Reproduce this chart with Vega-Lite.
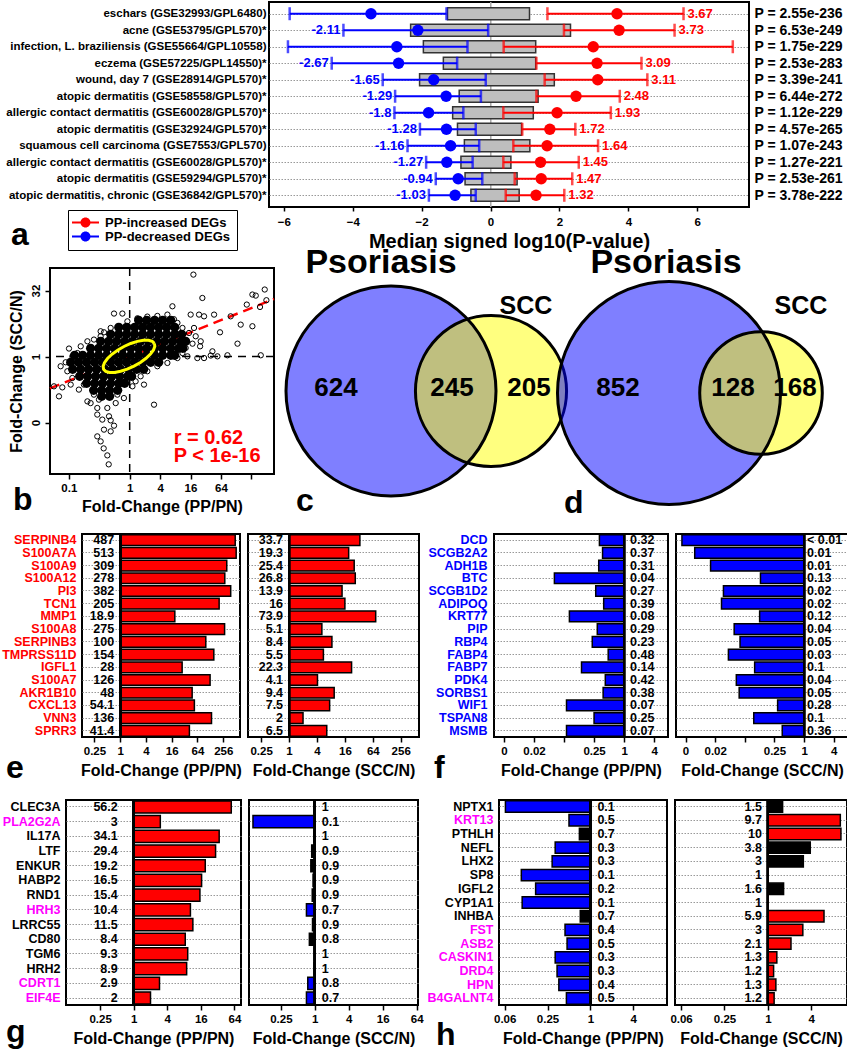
{
"$schema": "https://vega.github.io/schema/vega-lite/v6.json",
"background": "white",
"padding": 0,
"bounds": "flush",
"spacing": 266,
"resolve": {"scale": {"color": "independent", "fill": "independent", "size": "independent"}},
"config": {
  "font": "Liberation Sans",
  "view": {"stroke": null},
  "axis": {"labelFontWeight": "bold", "titleFontWeight": "bold", "labelColor": "black", "titleColor": "black", "domain": false, "grid": false, "tickColor": "black", "tickWidth": 1.5, "gridColor": "#999999", "gridDash": [1.5, 1.5], "gridWidth": 1, "labelFontSize": 11.5, "titleFontSize": 16},
  "axisX": {"tickSize": 5, "labelPadding": 3, "titlePadding": 6, "labelFlush": false},
  "title": {"fontSize": 32, "fontWeight": "bold", "anchor": "start", "orient": "bottom", "frame": "group", "baseline": "top", "color": "black"},
  "legend": {"labelFontWeight": "bold", "labelColor": "black"},
  "text": {"fontWeight": "bold"}
},
"datasets": {
  "a_rows": [
    {"name": "eschars (GSE32993/GPL6480)", "p": "P = 2.55e-236", "b_lo": -5.83, "b_med": -3.47, "b_hi": -1.28, "box_lo": -1.25, "box_hi": 1.13, "r_lo": 1.65, "r_med": 3.67, "r_hi": 5.6, "b_lab": "", "r_lab": "3.67"},
    {"name": "acne (GSE53795/GPL570)*", "p": "P = 6.53e-249", "b_lo": -4.27, "b_med": -2.11, "b_hi": -0.07, "box_lo": -2.32, "box_hi": 2.32, "r_lo": 2.13, "r_med": 3.73, "r_hi": 5.34, "b_lab": "-2.11", "r_lab": "3.73"},
    {"name": "infection, L. braziliensis (GSE55664/GPL10558)", "p": "P = 1.75e-229", "b_lo": -5.88, "b_med": -2.72, "b_hi": -0.67, "box_lo": -1.95, "box_hi": 1.31, "r_lo": 0.38, "r_med": 2.98, "r_hi": 7.03, "b_lab": "", "r_lab": ""},
    {"name": "eczema (GSE57225/GPL14550)*", "p": "P = 2.53e-283", "b_lo": -4.61, "b_med": -2.67, "b_hi": -0.97, "box_lo": -1.37, "box_hi": 1.31, "r_lo": 1.33, "r_med": 3.09, "r_hi": 4.38, "b_lab": "-2.67", "r_lab": "3.09"},
    {"name": "wound, day 7 (GSE28914/GPL570)*", "p": "P = 3.39e-241", "b_lo": -3.13, "b_med": -1.65, "b_hi": -0.14, "box_lo": -2.06, "box_hi": 1.85, "r_lo": 1.57, "r_med": 3.11, "r_hi": 4.55, "b_lab": "-1.65", "r_lab": "3.11"},
    {"name": "atopic dermatitis (GSE58558/GPL570)*", "p": "P = 6.44e-272", "b_lo": -2.77, "b_med": -1.29, "b_hi": -0.28, "box_lo": -0.91, "box_hi": 1.38, "r_lo": 1.33, "r_med": 2.48, "r_hi": 3.75, "b_lab": "-1.29", "r_lab": "2.48"},
    {"name": "allergic contact dermatitis (GSE60028/GPL570)*", "p": "P = 1.12e-229", "b_lo": -2.79, "b_med": -1.8, "b_hi": -0.79, "box_lo": -1.1, "box_hi": 1.24, "r_lo": 0.37, "r_med": 1.93, "r_hi": 3.49, "b_lab": "-1.8", "r_lab": "1.93"},
    {"name": "atopic dermatitis (GSE32924/GPL570)*", "p": "P = 4.57e-265", "b_lo": -2.05, "b_med": -1.28, "b_hi": -0.43, "box_lo": -0.96, "box_hi": 0.9, "r_lo": 0.92, "r_med": 1.72, "r_hi": 2.46, "b_lab": "-1.28", "r_lab": "1.72"},
    {"name": "squamous cell carcinoma (GSE7553/GPL570)", "p": "P = 1.07e-243", "b_lo": -2.41, "b_med": -1.16, "b_hi": -0.33, "box_lo": -0.76, "box_hi": 1.14, "r_lo": 0.66, "r_med": 1.64, "r_hi": 3.12, "b_lab": "-1.16", "r_lab": "1.64"},
    {"name": "allergic contact dermatitis (GSE60028/GPL570)*\u200b", "p": "P = 1.27e-221", "b_lo": -1.87, "b_med": -1.27, "b_hi": -0.52, "box_lo": -0.86, "box_hi": 0.59, "r_lo": 0.37, "r_med": 1.45, "r_hi": 2.56, "b_lab": "-1.27", "r_lab": "1.45"},
    {"name": "atopic dermatitis (GSE59294/GPL570)*", "p": "P = 2.53e-261", "b_lo": -1.59, "b_med": -0.94, "b_hi": -0.24, "box_lo": -0.74, "box_hi": 0.77, "r_lo": 0.7, "r_med": 1.47, "r_hi": 2.37, "b_lab": "-0.94", "r_lab": "1.47"},
    {"name": "atopic dermatitis, chronic (GSE36842/GPL570)*", "p": "P = 3.78e-222", "b_lo": -1.79, "b_med": -1.03, "b_hi": -0.43, "box_lo": -0.57, "box_hi": 0.83, "r_lo": 0.44, "r_med": 1.32, "r_hi": 2.14, "b_lab": "-1.03", "r_lab": "1.32"}
  ],
  "sc_core": [
    {"lx":0.59,"ly":2.75},{"lx":1.12,"ly":2.75},{"lx":1.64,"ly":2.75},{"lx":2.17,"ly":2.75},{"lx":2.70,"ly":2.75},
    {"lx":-0.72,"ly":2.22},{"lx":-0.20,"ly":2.22},{"lx":0.33,"ly":2.22},{"lx":0.86,"ly":2.22},{"lx":1.38,"ly":2.22},{"lx":1.91,"ly":2.22},{"lx":2.43,"ly":2.22},{"lx":2.96,"ly":2.22},
    {"lx":-1.25,"ly":1.69},{"lx":-0.72,"ly":1.69},{"lx":-0.20,"ly":1.69},{"lx":0.33,"ly":1.69},{"lx":0.86,"ly":1.69},{"lx":1.38,"ly":1.69},{"lx":1.91,"ly":1.69},{"lx":2.43,"ly":1.69},{"lx":2.96,"ly":1.69},{"lx":3.42,"ly":1.69},
    {"lx":-1.91,"ly":1.16},{"lx":-1.38,"ly":1.16},{"lx":-0.86,"ly":1.16},{"lx":-0.33,"ly":1.16},{"lx":0.20,"ly":1.16},{"lx":0.72,"ly":1.16},{"lx":1.25,"ly":1.16},{"lx":1.78,"ly":1.16},{"lx":2.30,"ly":1.16},{"lx":2.83,"ly":1.16},{"lx":3.36,"ly":1.16},{"lx":3.68,"ly":1.16},
    {"lx":-2.57,"ly":0.63},{"lx":-2.04,"ly":0.63},{"lx":-1.51,"ly":0.63},{"lx":-0.99,"ly":0.63},{"lx":-0.46,"ly":0.63},{"lx":0.07,"ly":0.63},{"lx":0.59,"ly":0.63},{"lx":1.12,"ly":0.63},{"lx":1.64,"ly":0.63},{"lx":2.17,"ly":0.63},{"lx":2.70,"ly":0.63},{"lx":3.22,"ly":0.63},{"lx":3.49,"ly":0.63},
    {"lx":-3.62,"ly":0.10},{"lx":-3.09,"ly":0.10},{"lx":-2.57,"ly":0.10},{"lx":-2.04,"ly":0.10},{"lx":-1.51,"ly":0.10},{"lx":-0.99,"ly":0.10},{"lx":-0.46,"ly":0.10},{"lx":0.07,"ly":0.10},{"lx":0.59,"ly":0.10},{"lx":1.12,"ly":0.10},{"lx":1.64,"ly":0.10},{"lx":2.17,"ly":0.10},{"lx":2.70,"ly":0.10},{"lx":2.96,"ly":0.10},
    {"lx":-3.88,"ly":-0.43},{"lx":-3.36,"ly":-0.43},{"lx":-2.83,"ly":-0.43},{"lx":-2.30,"ly":-0.43},{"lx":-1.78,"ly":-0.43},{"lx":-1.25,"ly":-0.43},{"lx":-0.72,"ly":-0.43},{"lx":-0.20,"ly":-0.43},{"lx":0.33,"ly":-0.43},{"lx":0.86,"ly":-0.43},{"lx":1.38,"ly":-0.43},{"lx":1.91,"ly":-0.43},
    {"lx":-3.75,"ly":-0.96},{"lx":-3.22,"ly":-0.96},{"lx":-2.70,"ly":-0.96},{"lx":-2.17,"ly":-0.96},{"lx":-1.64,"ly":-0.96},{"lx":-1.12,"ly":-0.96},{"lx":-0.59,"ly":-0.96},{"lx":-0.07,"ly":-0.96},{"lx":0.46,"ly":-0.96},{"lx":0.92,"ly":-0.96},
    {"lx":-3.29,"ly":-1.49},{"lx":-2.76,"ly":-1.49},{"lx":-2.24,"ly":-1.49},{"lx":-1.71,"ly":-1.49},{"lx":-1.18,"ly":-1.49},{"lx":-0.66,"ly":-1.49},{"lx":-0.13,"ly":-1.49},{"lx":0.13,"ly":-1.49},
    {"lx":-2.83,"ly":-2.02},{"lx":-2.30,"ly":-2.02},{"lx":-1.78,"ly":-2.02},{"lx":-1.25,"ly":-2.02},{"lx":-0.72,"ly":-2.02},{"lx":-0.33,"ly":-2.02},
    {"lx":-2.37,"ly":-2.55},{"lx":-1.84,"ly":-2.55},{"lx":-1.32,"ly":-2.55},{"lx":-0.79,"ly":-2.55},
    {"lx":-1.84,"ly":-3.01},{"lx":-1.32,"ly":-3.01}
  ],
  "sc_pts": [
    {"lx":4.19,"ly":6.21},{"lx":4.78,"ly":4.44},{"lx":2.81,"ly":3.81},{"lx":-1.03,"ly":3.26},{"lx":-0.48,"ly":3.26},{"lx":8.07,"ly":4.70},{"lx":8.29,"ly":4.62},{"lx":8.88,"ly":5.08},{"lx":8.99,"ly":4.27},{"lx":8.57,"ly":3.76},{"lx":7.70,"ly":3.94},{"lx":6.64,"ly":3.05},{"lx":7.30,"ly":2.42},{"lx":8.07,"ly":2.30},{"lx":7.09,"ly":0.98},{"lx":5.94,"ly":1.84},{"lx":5.55,"ly":3.18},{"lx":4.89,"ly":3.05},{"lx":4.56,"ly":3.18},{"lx":4.01,"ly":3.18},{"lx":6.43,"ly":0.10},{"lx":8.62,"ly":0.10},{"lx":5.77,"ly":0.02},{"lx":5.33,"ly":0.08},{"lx":4.89,"ly":-0.11},{"lx":4.45,"ly":-0.11},{"lx":5.44,"ly":0.40},{"lx":4.67,"ly":1.16},{"lx":4.63,"ly":0.78},{"lx":4.34,"ly":1.54},{"lx":4.13,"ly":0.98},{"lx":1.60,"ly":-3.64},{"lx":0.94,"ly":-2.12},{"lx":-4.65,"ly":-3.01},{"lx":-4.43,"ly":-2.33},{"lx":-3.88,"ly":-2.12},{"lx":-3.34,"ly":-2.50},{"lx":-2.78,"ly":-3.39},{"lx":-2.02,"ly":-3.26},{"lx":-4.98,"ly":-2.25},{"lx":-4.21,"ly":-0.43},{"lx":-3.77,"ly":0.02},{"lx":-3.99,"ly":0.61},{"lx":-2.57,"ly":0.65},{"lx":-3.44,"ly":0.27},{"lx":-1.91,"ly":1.54},{"lx":-1.69,"ly":1.84},
    {"lx":-2.13,"ly":-4.39},{"lx":-1.80,"ly":-4.77},{"lx":-1.36,"ly":-4.52},{"lx":-1.25,"ly":-4.83},{"lx":-1.69,"ly":-5.53},{"lx":-1.25,"ly":-5.66},{"lx":-1.03,"ly":-5.23},{"lx":-1.91,"ly":-6.42},{"lx":-2.13,"ly":-6.04},{"lx":-1.47,"ly":-7.48},{"lx":-0.81,"ly":-2.88},{"lx":-0.38,"ly":-3.14},{"lx":-0.92,"ly":-3.52},{"lx":-1.47,"ly":-3.89},{"lx":-2.13,"ly":-3.89},{"lx":-2.57,"ly":-3.52},{"lx":-1.71,"ly":-6.95},{"lx":-1.38,"ly":-8.16},
    {"lx":3.14,"ly":2.55},{"lx":3.47,"ly":2.17},{"lx":3.90,"ly":1.79},{"lx":4.23,"ly":2.17},{"lx":3.68,"ly":0.65},{"lx":3.47,"ly":0.27},{"lx":3.80,"ly":0.02},{"lx":3.14,"ly":-0.11},{"lx":2.48,"ly":-0.48},{"lx":1.82,"ly":-0.73},{"lx":1.16,"ly":-1.11},{"lx":0.72,"ly":-1.49},{"lx":0.39,"ly":-1.87},{"lx":0.18,"ly":-2.25},
    {"lx":-4.54,"ly":-0.73},{"lx":-4.10,"ly":-1.11},{"lx":-3.77,"ly":-1.62},{"lx":-3.01,"ly":-2.12},{"lx":-2.35,"ly":-2.88},
    {"lx":-3.22,"ly":0.78},{"lx":-2.78,"ly":1.16},{"lx":-2.35,"ly":1.29},{"lx":-1.91,"ly":1.92},{"lx":-1.25,"ly":2.17},
    {"lx":-0.15,"ly":2.67},{"lx":0.51,"ly":2.90},{"lx":1.16,"ly":3.03},{"lx":1.82,"ly":3.08},{"lx":2.48,"ly":3.18},{"lx":2.91,"ly":2.83}
  ],
  "sc_ell": [
    {"t":0,"lx":1.624,"ly":1.003},{"t":15,"lx":1.653,"ly":0.777},{"t":30,"lx":1.565,"ly":0.5},{"t":45,"lx":1.367,"ly":0.191},{"t":60,"lx":1.074,"ly":-0.13},{"t":75,"lx":0.705,"ly":-0.441},{"t":90,"lx":0.282,"ly":-0.72},{"t":105,"lx":-0.161,"ly":-0.948},{"t":120,"lx":-0.597,"ly":-1.111},{"t":135,"lx":-0.995,"ly":-1.195},{"t":150,"lx":-1.328,"ly":-1.197},{"t":165,"lx":-1.575,"ly":-1.117},{"t":180,"lx":-1.716,"ly":-0.958},{"t":195,"lx":-1.745,"ly":-0.732},{"t":210,"lx":-1.657,"ly":-0.455},{"t":225,"lx":-1.459,"ly":-0.145},{"t":240,"lx":-1.166,"ly":0.176},{"t":255,"lx":-0.797,"ly":0.486},{"t":270,"lx":-0.374,"ly":0.765},{"t":285,"lx":0.069,"ly":0.994},{"t":300,"lx":0.505,"ly":1.156},{"t":315,"lx":0.903,"ly":1.241},{"t":330,"lx":1.236,"ly":1.242},{"t":345,"lx":1.483,"ly":1.162},{"t":360,"lx":1.624,"ly":1.003}
  ],
  "sc_txt": [{"lx": 2.89, "ly": -6.17, "txt": "r = 0.62"}, {"lx": 2.89, "ly": -7.55, "txt": "P < 1e-16"}],
  "vc_sets": [{"set": "Psoriasis", "n": 869, "cx": 10.9, "cy": 12.3}, {"set": "SCC", "n": 450, "cx": 20.9, "cy": 12.3}],
  "vc_txt": [{"t": "Psoriasis", "cx": 9.9, "cy": -0.5, "k": "big"}, {"t": "SCC", "cx": 24.4, "cy": 3.8, "k": "mid"}, {"t": "624", "cx": 5.4, "cy": 12.0, "k": "num"}, {"t": "245", "cx": 17.0, "cy": 12.0, "k": "num"}, {"t": "205", "cx": 24.7, "cy": 12.0, "k": "num"}, {"t": "c", "cx": 1.4, "cy": 24.3, "k": "letter"}],
  "vd_sets": [{"set": "Psoriasis", "n": 980, "cx": 10.0, "cy": 12.5}, {"set": "SCC", "n": 296, "cx": 19.2, "cy": 12.5}],
  "vd_txt": [{"t": "Psoriasis", "cx": 9.7, "cy": -0.5, "k": "big"}, {"t": "SCC", "cx": 23.2, "cy": 3.8, "k": "mid"}, {"t": "852", "cx": 4.9, "cy": 12.0, "k": "num"}, {"t": "128", "cx": 16.4, "cy": 12.0, "k": "num"}, {"t": "168", "cx": 22.6, "cy": 12.0, "k": "num"}, {"t": "d", "cx": -0.5, "cy": 24.5, "k": "letter"}],
  "e_pp": [
    {"gene":"SERPINB4","fc":487,"lab":"487","dir":"up"},{"gene":"S100A7A","fc":513,"lab":"513","dir":"up"},{"gene":"S100A9","fc":309,"lab":"309","dir":"up"},{"gene":"S100A12","fc":278,"lab":"278","dir":"up"},{"gene":"PI3","fc":382,"lab":"382","dir":"up"},{"gene":"TCN1","fc":205,"lab":"205","dir":"up"},{"gene":"MMP1","fc":18.9,"lab":"18.9","dir":"up"},{"gene":"S100A8","fc":275,"lab":"275","dir":"up"},{"gene":"SERPINB3","fc":100,"lab":"100","dir":"up"},{"gene":"TMPRSS11D","fc":154,"lab":"154","dir":"up"},{"gene":"IGFL1","fc":28,"lab":"28","dir":"up"},{"gene":"S100A7","fc":126,"lab":"126","dir":"up"},{"gene":"AKR1B10","fc":48,"lab":"48","dir":"up"},{"gene":"CXCL13","fc":54.1,"lab":"54.1","dir":"up"},{"gene":"VNN3","fc":136,"lab":"136","dir":"up"},{"gene":"SPRR3","fc":41.4,"lab":"41.4","dir":"up"}
  ],
  "e_scc": [
    {"gene":"SERPINB4","fc":33.7,"lab":"33.7","dir":"up"},{"gene":"S100A7A","fc":19.3,"lab":"19.3","dir":"up"},{"gene":"S100A9","fc":25.4,"lab":"25.4","dir":"up"},{"gene":"S100A12","fc":26.8,"lab":"26.8","dir":"up"},{"gene":"PI3","fc":13.9,"lab":"13.9","dir":"up"},{"gene":"TCN1","fc":16,"lab":"16","dir":"up"},{"gene":"MMP1","fc":73.9,"lab":"73.9","dir":"up"},{"gene":"S100A8","fc":5.1,"lab":"5.1","dir":"up"},{"gene":"SERPINB3","fc":8.4,"lab":"8.4","dir":"up"},{"gene":"TMPRSS11D","fc":5.5,"lab":"5.5","dir":"up"},{"gene":"IGFL1","fc":22.3,"lab":"22.3","dir":"up"},{"gene":"S100A7","fc":4.1,"lab":"4.1","dir":"up"},{"gene":"AKR1B10","fc":9.4,"lab":"9.4","dir":"up"},{"gene":"CXCL13","fc":7.5,"lab":"7.5","dir":"up"},{"gene":"VNN3","fc":2,"lab":"2","dir":"up"},{"gene":"SPRR3","fc":6.5,"lab":"6.5","dir":"up"}
  ],
  "f_pp": [
    {"gene":"DCD","fc":0.32,"lab":"0.32","dir":"down"},{"gene":"SCGB2A2","fc":0.37,"lab":"0.37","dir":"down"},{"gene":"ADH1B","fc":0.31,"lab":"0.31","dir":"down"},{"gene":"BTC","fc":0.04,"lab":"0.04","dir":"down"},{"gene":"SCGB1D2","fc":0.27,"lab":"0.27","dir":"down"},{"gene":"ADIPOQ","fc":0.39,"lab":"0.39","dir":"down"},{"gene":"KRT77","fc":0.08,"lab":"0.08","dir":"down"},{"gene":"PIP","fc":0.29,"lab":"0.29","dir":"down"},{"gene":"RBP4","fc":0.23,"lab":"0.23","dir":"down"},{"gene":"FABP4","fc":0.48,"lab":"0.48","dir":"down"},{"gene":"FABP7","fc":0.14,"lab":"0.14","dir":"down"},{"gene":"PDK4","fc":0.42,"lab":"0.42","dir":"down"},{"gene":"SORBS1","fc":0.38,"lab":"0.38","dir":"down"},{"gene":"WIF1","fc":0.07,"lab":"0.07","dir":"down"},{"gene":"TSPAN8","fc":0.25,"lab":"0.25","dir":"down"},{"gene":"MSMB","fc":0.07,"lab":"0.07","dir":"down"}
  ],
  "f_scc": [
    {"gene":"DCD","fc":0.0033,"lab":"< 0.01","dir":"down"},{"gene":"SCGB2A2","fc":0.006,"lab":"0.01","dir":"down"},{"gene":"ADH1B","fc":0.0126,"lab":"0.01","dir":"down"},{"gene":"BTC","fc":0.13,"lab":"0.13","dir":"down"},{"gene":"SCGB1D2","fc":0.023,"lab":"0.02","dir":"down"},{"gene":"ADIPOQ","fc":0.021,"lab":"0.02","dir":"down"},{"gene":"KRT77","fc":0.125,"lab":"0.12","dir":"down"},{"gene":"PIP","fc":0.038,"lab":"0.04","dir":"down"},{"gene":"RBP4","fc":0.05,"lab":"0.05","dir":"down"},{"gene":"FABP4","fc":0.029,"lab":"0.03","dir":"down"},{"gene":"FABP7","fc":0.099,"lab":"0.1","dir":"down"},{"gene":"PDK4","fc":0.042,"lab":"0.04","dir":"down"},{"gene":"SORBS1","fc":0.048,"lab":"0.05","dir":"down"},{"gene":"WIF1","fc":0.29,"lab":"0.28","dir":"down"},{"gene":"TSPAN8","fc":0.095,"lab":"0.1","dir":"down"},{"gene":"MSMB","fc":0.36,"lab":"0.36","dir":"down"}
  ],
  "g_pp": [
    {"gene":"CLEC3A","fc":56.2,"lab":"56.2","dir":"up"},{"gene":"PLA2G2A","fc":3,"lab":"3","dir":"up"},{"gene":"IL17A","fc":34.1,"lab":"34.1","dir":"up"},{"gene":"LTF","fc":29.4,"lab":"29.4","dir":"up"},{"gene":"ENKUR","fc":19.2,"lab":"19.2","dir":"up"},{"gene":"HABP2","fc":16.5,"lab":"16.5","dir":"up"},{"gene":"RND1","fc":15.4,"lab":"15.4","dir":"up"},{"gene":"HRH3","fc":10.4,"lab":"10.4","dir":"up"},{"gene":"LRRC55","fc":11.5,"lab":"11.5","dir":"up"},{"gene":"CD80","fc":8.4,"lab":"8.4","dir":"up"},{"gene":"TGM6","fc":9.3,"lab":"9.3","dir":"up"},{"gene":"HRH2","fc":8.9,"lab":"8.9","dir":"up"},{"gene":"CDRT1","fc":2.9,"lab":"2.9","dir":"up"},{"gene":"EIF4E","fc":2,"lab":"2","dir":"up"}
  ],
  "g_scc": [
    {"gene":"CLEC3A","fc":0.96,"lab":"1","dir":"ns"},{"gene":"PLA2G2A","fc":0.08,"lab":"0.1","dir":"down"},{"gene":"IL17A","fc":0.96,"lab":"1","dir":"ns"},{"gene":"LTF","fc":0.88,"lab":"0.9","dir":"ns"},{"gene":"ENKUR","fc":0.85,"lab":"0.9","dir":"ns"},{"gene":"HABP2","fc":0.93,"lab":"0.9","dir":"ns"},{"gene":"RND1","fc":0.9,"lab":"0.9","dir":"ns"},{"gene":"HRH3","fc":0.71,"lab":"0.7","dir":"down"},{"gene":"LRRC55","fc":0.91,"lab":"0.9","dir":"ns"},{"gene":"CD80","fc":0.8,"lab":"0.8","dir":"ns"},{"gene":"TGM6","fc":0.98,"lab":"1","dir":"ns"},{"gene":"HRH2","fc":0.97,"lab":"1","dir":"ns"},{"gene":"CDRT1","fc":0.75,"lab":"0.8","dir":"down"},{"gene":"EIF4E","fc":0.71,"lab":"0.7","dir":"down"}
  ],
  "h_pp": [
    {"gene":"NPTX1","fc":0.064,"lab":"0.1","dir":"down"},{"gene":"KRT13","fc":0.5,"lab":"0.5","dir":"down"},{"gene":"PTHLH","fc":0.7,"lab":"0.7","dir":"ns"},{"gene":"NEFL","fc":0.32,"lab":"0.3","dir":"down"},{"gene":"LHX2","fc":0.29,"lab":"0.3","dir":"down"},{"gene":"SP8","fc":0.107,"lab":"0.1","dir":"down"},{"gene":"IGFL2","fc":0.17,"lab":"0.2","dir":"down"},{"gene":"CYP1A1","fc":0.11,"lab":"0.1","dir":"down"},{"gene":"INHBA","fc":0.72,"lab":"0.7","dir":"ns"},{"gene":"FST","fc":0.44,"lab":"0.4","dir":"down"},{"gene":"ASB2","fc":0.47,"lab":"0.5","dir":"down"},{"gene":"CASKIN1","fc":0.32,"lab":"0.3","dir":"down"},{"gene":"DRD4","fc":0.34,"lab":"0.3","dir":"down"},{"gene":"HPN","fc":0.36,"lab":"0.4","dir":"down"},{"gene":"B4GALNT4","fc":0.46,"lab":"0.5","dir":"down"}
  ],
  "h_scc": [
    {"gene":"NPTX1","fc":1.6,"lab":"1.5","dir":"ns"},{"gene":"KRT13","fc":10.1,"lab":"9.7","dir":"up"},{"gene":"PTHLH","fc":10.3,"lab":"10","dir":"up"},{"gene":"NEFL","fc":3.87,"lab":"3.8","dir":"ns"},{"gene":"LHX2","fc":3.1,"lab":"3","dir":"ns"},{"gene":"SP8","fc":1,"lab":"1","dir":"ns"},{"gene":"IGFL2","fc":1.65,"lab":"1.6","dir":"ns"},{"gene":"CYP1A1","fc":1,"lab":"1","dir":"ns"},{"gene":"INHBA","fc":6.0,"lab":"5.9","dir":"up"},{"gene":"FST","fc":3.05,"lab":"3","dir":"up"},{"gene":"ASB2","fc":2.09,"lab":"2.1","dir":"up"},{"gene":"CASKIN1","fc":1.33,"lab":"1.3","dir":"up"},{"gene":"DRD4","fc":1.2,"lab":"1.2","dir":"up"},{"gene":"HPN","fc":1.29,"lab":"1.3","dir":"up"},{"gene":"B4GALNT4","fc":1.22,"lab":"1.2","dir":"up"}
  ]
},
"vconcat": [
 {"hconcat": [
  {"width": 260, "height": 205, "data": {"values": [{}]}, "mark": {"type": "point", "opacity": 0}, "title": {"text": "a", "dx": 10, "offset": 13, "frame": "group", "baseline": "top"}},
  {
    "width": 480, "height": 205,
    "view": {"stroke": "black", "strokeWidth": 2},
    "data": {"name": "a_rows"},
    "resolve": {"scale": {"y": "independent"}, "axis": {"y": "independent"}},
    "layer": [
      {"mark": {"type": "rule", "color": "#aaaaaa", "strokeWidth": 1}, "encoding": {"x": {"datum": 0, "type": "quantitative", "scale": {"domain": [-6.43, 7.5], "nice": false, "zero": false}, "title": "Median signed log10(P-value)"}}},
      {"encoding": {"y": {"field": "name", "type": "nominal", "sort": null, "scale": {"type": "point", "padding": 0.71}, "axis": {"title": null, "ticks": false, "tickSize": 0, "labelPadding": 3, "labelFontSize": 11.5, "labelLimit": 400, "grid": true}}},
       "layer": [
        {"mark": {"type": "bar", "fill": "#BEBEBE", "stroke": "#333333", "strokeWidth": 1.5, "size": 12},
         "encoding": {
           "x": {"field": "box_lo", "type": "quantitative", "scale": {"domain": [-6.43, 7.5], "nice": false, "zero": false}, "title": "Median signed log10(P-value)", "axis": {"values": [-6, -4, -2, 0, 2, 4, 6], "titleFontSize": 20, "tickSize": 4, "labelPadding": 5, "titlePadding": 4}},
           "x2": {"field": "box_hi"}}},
        {"mark": {"type": "rule", "color": "#0000FF", "strokeWidth": 2},
         "encoding": {"x": {"field": "b_lo", "type": "quantitative", "scale": {"domain": [-6.43, 7.5], "nice": false, "zero": false}, "title": "Median signed log10(P-value)"}, "x2": {"field": "b_hi"}}},
        {"mark": {"type": "tick", "color": "#0000FF", "size": 13, "thickness": 2.5},
         "encoding": {"x": {"field": "b_lo", "type": "quantitative", "scale": {"domain": [-6.43, 7.5], "nice": false, "zero": false}, "title": "Median signed log10(P-value)"}}},
        {"mark": {"type": "tick", "color": "#0000FF", "size": 13, "thickness": 2.5},
         "encoding": {"x": {"field": "b_hi", "type": "quantitative", "scale": {"domain": [-6.43, 7.5], "nice": false, "zero": false}, "title": "Median signed log10(P-value)"}}},
        {"mark": {"type": "rule", "color": "#FF0000", "strokeWidth": 2},
         "encoding": {"x": {"field": "r_lo", "type": "quantitative", "scale": {"domain": [-6.43, 7.5], "nice": false, "zero": false}, "title": "Median signed log10(P-value)"}, "x2": {"field": "r_hi"}}},
        {"mark": {"type": "tick", "color": "#FF0000", "size": 13, "thickness": 2.5},
         "encoding": {"x": {"field": "r_lo", "type": "quantitative", "scale": {"domain": [-6.43, 7.5], "nice": false, "zero": false}, "title": "Median signed log10(P-value)"}}},
        {"mark": {"type": "tick", "color": "#FF0000", "size": 13, "thickness": 2.5},
         "encoding": {"x": {"field": "r_hi", "type": "quantitative", "scale": {"domain": [-6.43, 7.5], "nice": false, "zero": false}, "title": "Median signed log10(P-value)"}}},
        {"mark": {"type": "point", "filled": true, "size": 130, "opacity": 1},
         "encoding": {"x": {"field": "b_med", "type": "quantitative", "scale": {"domain": [-6.43, 7.5], "nice": false, "zero": false}, "title": "Median signed log10(P-value)"},
           "color": {"datum": "PP-decreased DEGs", "type": "nominal"}}},
        {"mark": {"type": "point", "filled": true, "size": 130, "opacity": 1},
         "encoding": {"x": {"field": "r_med", "type": "quantitative", "scale": {"domain": [-6.43, 7.5], "nice": false, "zero": false}, "title": "Median signed log10(P-value)"},
           "color": {"datum": "PP-increased DEGs", "type": "nominal", "scale": {"domain": ["PP-increased DEGs", "PP-decreased DEGs"], "range": ["#FF0000", "#0000FF"]},
             "legend": {"title": null, "orient": "none", "legendX": 67, "legendY": 208, "strokeColor": "black", "fillColor": "white", "padding": 6, "symbolType": "M-2.7,-0.2H2.7V0.2H-2.7Z M1,0A1,1,0,1,1,-1,0A1,1,0,1,1,1,0Z", "symbolSize": 100, "symbolOffset": 5, "symbolStrokeWidth": 0, "labelOffset": 13, "labelFontSize": 13, "rowPadding": 0}}}},
        {"mark": {"type": "text", "align": "right", "dx": -3, "fontSize": 13, "color": "#0000FF"},
         "encoding": {"x": {"field": "b_lo", "type": "quantitative", "scale": {"domain": [-6.43, 7.5], "nice": false, "zero": false}, "title": "Median signed log10(P-value)"}, "text": {"field": "b_lab"}}},
        {"mark": {"type": "text", "align": "left", "dx": 4, "fontSize": 13, "color": "#FF0000"},
         "encoding": {"x": {"field": "r_hi", "type": "quantitative", "scale": {"domain": [-6.43, 7.5], "nice": false, "zero": false}, "title": "Median signed log10(P-value)"}, "text": {"field": "r_lab"}}}
      ]},
      {"mark": {"type": "point", "opacity": 0},
       "encoding": {"y": {"field": "p", "type": "nominal", "sort": null, "scale": {"type": "point", "padding": 0.71}, "axis": {"orient": "right", "title": null, "ticks": false, "tickSize": 0, "labelPadding": 5, "labelFontSize": 14, "grid": false, "labelLimit": 200}}}}
    ]
  }
 ], "bounds": "flush", "spacing": 8},

 {"hconcat": [
  {"width": 41, "height": 206, "data": {"values": [{}]}, "mark": {"type": "point", "opacity": 0}, "title": {"text": "b", "dx": 12, "offset": 11, "frame": "group", "baseline": "top"}},
  {
    "width": 224, "height": 206,
    "view": {"stroke": "black", "strokeWidth": 2},
    "layer": [
      {"data": {"values": [{"v": 0}]}, "mark": {"type": "rule", "color": "black", "strokeWidth": 1.5, "strokeDash": [8, 6]},
       "encoding": {"x": {"field": "v", "type": "quantitative", "scale": {"domain": [-5.24, 9.49], "nice": false, "zero": false},
         "axis": {"values": [-4, -2, 0, 2, 4, 6, 8], "labelExpr": "datum.value == -4 ? '0.1' : datum.value == 0 ? '1' : datum.value == 2 ? '4' : datum.value == 4 ? '16' : datum.value == 6 ? '64' : ''", "labelOverlap": false, "title": "Fold-Change (PP/PN)", "tickSize": 5, "labelPadding": 3, "titlePadding": 5}}}},
      {"data": {"values": [{"v": 0}]}, "mark": {"type": "rule", "color": "black", "strokeWidth": 1.5, "strokeDash": [8, 6]},
       "encoding": {"y": {"field": "v", "type": "quantitative", "scale": {"domain": [-8.89, 6.71], "nice": false, "zero": false},
         "axis": {"values": [-5, 0, 5], "labelExpr": "datum.value < -1 ? '0' : datum.value > 1 ? '32' : '1'", "labelAngle": -90, "labelAlign": "center", "labelBaseline": "bottom", "title": "Fold-Change (SCC/N)", "tickSize": 5, "labelPadding": 4, "titlePadding": 6}}}},
      {"data": {"values": [{"x1": -5.24, "y1": -2.4, "x2": 9.49, "y2": 4.36}]}, "mark": {"type": "rule", "color": "#FF0000", "strokeWidth": 2.5, "strokeDash": [10, 6]},
       "encoding": {"x": {"field": "x1", "type": "quantitative", "scale": {"domain": [-5.24, 9.49], "nice": false, "zero": false},
         "axis": {"values": [-4, -2, 0, 2, 4, 6, 8], "labelExpr": "datum.value == -4 ? '0.1' : datum.value == 0 ? '1' : datum.value == 2 ? '4' : datum.value == 4 ? '16' : datum.value == 6 ? '64' : ''", "labelOverlap": false, "title": "Fold-Change (PP/PN)", "tickSize": 5, "labelPadding": 3, "titlePadding": 5}},
         "y": {"field": "y1", "type": "quantitative", "scale": {"domain": [-8.89, 6.71], "nice": false, "zero": false}, "title": "Fold-Change (SCC/N)"}, "x2": {"field": "x2"}, "y2": {"field": "y2"}}},
      {"data": {"name": "sc_core"}, "mark": {"type": "point", "filled": true, "color": "black", "size": 85, "opacity": 1},
       "encoding": {"x": {"field": "lx", "type": "quantitative", "scale": {"domain": [-5.24, 9.49], "nice": false, "zero": false},
         "axis": {"values": [-4, -2, 0, 2, 4, 6, 8], "labelExpr": "datum.value == -4 ? '0.1' : datum.value == 0 ? '1' : datum.value == 2 ? '4' : datum.value == 4 ? '16' : datum.value == 6 ? '64' : ''", "labelOverlap": false, "title": "Fold-Change (PP/PN)", "tickSize": 5, "labelPadding": 3, "titlePadding": 5}},
         "y": {"field": "ly", "type": "quantitative", "scale": {"domain": [-8.89, 6.71], "nice": false, "zero": false}, "title": "Fold-Change (SCC/N)"}}},
      {"data": {"name": "sc_pts"}, "mark": {"type": "point", "filled": false, "color": "black", "size": 28, "strokeWidth": 1, "opacity": 1},
       "encoding": {"x": {"field": "lx", "type": "quantitative", "scale": {"domain": [-5.24, 9.49], "nice": false, "zero": false},
         "axis": {"values": [-4, -2, 0, 2, 4, 6, 8], "labelExpr": "datum.value == -4 ? '0.1' : datum.value == 0 ? '1' : datum.value == 2 ? '4' : datum.value == 4 ? '16' : datum.value == 6 ? '64' : ''", "labelOverlap": false, "title": "Fold-Change (PP/PN)", "tickSize": 5, "labelPadding": 3, "titlePadding": 5}},
         "y": {"field": "ly", "type": "quantitative", "scale": {"domain": [-8.89, 6.71], "nice": false, "zero": false}, "title": "Fold-Change (SCC/N)"}}},
      {"data": {"name": "sc_ell"}, "mark": {"type": "line", "color": "#FFFF00", "strokeWidth": 3},
       "encoding": {"x": {"field": "lx", "type": "quantitative", "scale": {"domain": [-5.24, 9.49], "nice": false, "zero": false},
         "axis": {"values": [-4, -2, 0, 2, 4, 6, 8], "labelExpr": "datum.value == -4 ? '0.1' : datum.value == 0 ? '1' : datum.value == 2 ? '4' : datum.value == 4 ? '16' : datum.value == 6 ? '64' : ''", "labelOverlap": false, "title": "Fold-Change (PP/PN)", "tickSize": 5, "labelPadding": 3, "titlePadding": 5}},
         "y": {"field": "ly", "type": "quantitative", "scale": {"domain": [-8.89, 6.71], "nice": false, "zero": false}, "title": "Fold-Change (SCC/N)"}, "order": {"field": "t", "type": "quantitative"}}},
      {"data": {"name": "sc_txt"}, "mark": {"type": "text", "color": "#FF0000", "fontSize": 20, "align": "left"},
       "encoding": {"x": {"field": "lx", "type": "quantitative", "scale": {"domain": [-5.24, 9.49], "nice": false, "zero": false},
         "axis": {"values": [-4, -2, 0, 2, 4, 6, 8], "labelExpr": "datum.value == -4 ? '0.1' : datum.value == 0 ? '1' : datum.value == 2 ? '4' : datum.value == 4 ? '16' : datum.value == 6 ? '64' : ''", "labelOverlap": false, "title": "Fold-Change (PP/PN)", "tickSize": 5, "labelPadding": 3, "titlePadding": 5}},
         "y": {"field": "ly", "type": "quantitative", "scale": {"domain": [-8.89, 6.71], "nice": false, "zero": false}, "title": "Fold-Change (SCC/N)"}, "text": {"field": "txt"}}}
    ]
  },
  {
    "width": 279, "height": 206,
    "layer": [
      {"data": {"name": "vc_sets"}, "mark": {"type": "point", "shape": "circle", "filled": true, "fillOpacity": 0.5, "strokeWidth": 0, "opacity": 1},
       "encoding": {"x": {"field": "cx", "type": "quantitative", "scale": {"domain": [0, 27.9], "nice": false, "zero": false}, "axis": null}, "y": {"field": "cy", "type": "quantitative", "scale": {"domain": [0, 20.6], "nice": false, "zero": false, "reverse": true}, "axis": null},
         "size": {"field": "n", "type": "quantitative", "scale": {"domain": [0, 1000], "range": [0, 50750]}, "legend": null},
         "color": {"field": "set", "type": "nominal", "scale": {"domain": ["Psoriasis", "SCC"], "range": ["#0000FF", "#FFFF00"]}, "legend": null}}},
      {"data": {"name": "vc_sets"}, "mark": {"type": "point", "shape": "circle", "filled": false, "color": "black", "strokeWidth": 3, "opacity": 1},
       "encoding": {"x": {"field": "cx", "type": "quantitative", "scale": {"domain": [0, 27.9], "nice": false, "zero": false}}, "y": {"field": "cy", "type": "quantitative", "scale": {"domain": [0, 20.6], "nice": false, "zero": false, "reverse": true}},
         "size": {"field": "n", "type": "quantitative", "scale": {"domain": [0, 1000], "range": [0, 50750]}, "legend": null}}},
      {"data": {"name": "vc_txt"}, "transform": [{"filter": "datum.k == 'big'"}], "mark": {"type": "text", "fontSize": 34, "color": "black"},
       "encoding": {"x": {"field": "cx", "type": "quantitative", "scale": {"domain": [0, 27.9], "nice": false, "zero": false}}, "y": {"field": "cy", "type": "quantitative", "scale": {"domain": [0, 20.6], "nice": false, "zero": false, "reverse": true}}, "text": {"field": "t"}}},
      {"data": {"name": "vc_txt"}, "transform": [{"filter": "datum.k == 'mid'"}], "mark": {"type": "text", "fontSize": 25, "color": "black"},
       "encoding": {"x": {"field": "cx", "type": "quantitative", "scale": {"domain": [0, 27.9], "nice": false, "zero": false}}, "y": {"field": "cy", "type": "quantitative", "scale": {"domain": [0, 20.6], "nice": false, "zero": false, "reverse": true}}, "text": {"field": "t"}}},
      {"data": {"name": "vc_txt"}, "transform": [{"filter": "datum.k == 'num'"}], "mark": {"type": "text", "fontSize": 26, "color": "black"},
       "encoding": {"x": {"field": "cx", "type": "quantitative", "scale": {"domain": [0, 27.9], "nice": false, "zero": false}}, "y": {"field": "cy", "type": "quantitative", "scale": {"domain": [0, 20.6], "nice": false, "zero": false, "reverse": true}}, "text": {"field": "t"}}},
      {"data": {"name": "vc_txt"}, "transform": [{"filter": "datum.k == 'letter'"}], "mark": {"type": "text", "fontSize": 32, "color": "black", "align": "left", "baseline": "alphabetic"},
       "encoding": {"x": {"field": "cx", "type": "quantitative", "scale": {"domain": [0, 27.9], "nice": false, "zero": false}}, "y": {"field": "cy", "type": "quantitative", "scale": {"domain": [0, 20.6], "nice": false, "zero": false, "reverse": true}}, "text": {"field": "t"}}}
    ]
  },
  {
    "width": 250, "height": 206,
    "layer": [
      {"data": {"name": "vd_sets"}, "mark": {"type": "point", "shape": "circle", "filled": true, "fillOpacity": 0.5, "strokeWidth": 0, "opacity": 1},
       "encoding": {"x": {"field": "cx", "type": "quantitative", "scale": {"domain": [0, 25], "nice": false, "zero": false}, "axis": null}, "y": {"field": "cy", "type": "quantitative", "scale": {"domain": [0, 20.6], "nice": false, "zero": false, "reverse": true}, "axis": null},
         "size": {"field": "n", "type": "quantitative", "scale": {"domain": [0, 1000], "range": [0, 50750]}, "legend": null},
         "color": {"field": "set", "type": "nominal", "scale": {"domain": ["Psoriasis", "SCC"], "range": ["#0000FF", "#FFFF00"]}, "legend": null}}},
      {"data": {"name": "vd_sets"}, "mark": {"type": "point", "shape": "circle", "filled": false, "color": "black", "strokeWidth": 3, "opacity": 1},
       "encoding": {"x": {"field": "cx", "type": "quantitative", "scale": {"domain": [0, 25], "nice": false, "zero": false}}, "y": {"field": "cy", "type": "quantitative", "scale": {"domain": [0, 20.6], "nice": false, "zero": false, "reverse": true}},
         "size": {"field": "n", "type": "quantitative", "scale": {"domain": [0, 1000], "range": [0, 50750]}, "legend": null}}},
      {"data": {"name": "vd_txt"}, "transform": [{"filter": "datum.k == 'big'"}], "mark": {"type": "text", "fontSize": 34, "color": "black"},
       "encoding": {"x": {"field": "cx", "type": "quantitative", "scale": {"domain": [0, 25], "nice": false, "zero": false}}, "y": {"field": "cy", "type": "quantitative", "scale": {"domain": [0, 20.6], "nice": false, "zero": false, "reverse": true}}, "text": {"field": "t"}}},
      {"data": {"name": "vd_txt"}, "transform": [{"filter": "datum.k == 'mid'"}], "mark": {"type": "text", "fontSize": 25, "color": "black"},
       "encoding": {"x": {"field": "cx", "type": "quantitative", "scale": {"domain": [0, 25], "nice": false, "zero": false}}, "y": {"field": "cy", "type": "quantitative", "scale": {"domain": [0, 20.6], "nice": false, "zero": false, "reverse": true}}, "text": {"field": "t"}}},
      {"data": {"name": "vd_txt"}, "transform": [{"filter": "datum.k == 'num'"}], "mark": {"type": "text", "fontSize": 26, "color": "black"},
       "encoding": {"x": {"field": "cx", "type": "quantitative", "scale": {"domain": [0, 25], "nice": false, "zero": false}}, "y": {"field": "cy", "type": "quantitative", "scale": {"domain": [0, 20.6], "nice": false, "zero": false, "reverse": true}}, "text": {"field": "t"}}},
      {"data": {"name": "vd_txt"}, "transform": [{"filter": "datum.k == 'letter'"}], "mark": {"type": "text", "fontSize": 32, "color": "black", "align": "left", "baseline": "alphabetic"},
       "encoding": {"x": {"field": "cx", "type": "quantitative", "scale": {"domain": [0, 25], "nice": false, "zero": false}}, "y": {"field": "cy", "type": "quantitative", "scale": {"domain": [0, 20.6], "nice": false, "zero": false, "reverse": true}}, "text": {"field": "t"}}}
    ]
  }
 ], "bounds": "flush", "spacing": 8},

 {"hconcat": [
  {"width": 73, "height": 205, "data": {"values": [{}]}, "mark": {"type": "point", "opacity": 0}, "title": {"text": "e", "dx": 5, "offset": 14, "frame": "group", "baseline": "top"}},
  {
    "width": 158, "height": 203, "view": {"stroke": "black", "strokeWidth": 2}, "data": {"name": "e_pp"},
    "layer": [
      {"mark": {"type": "bar", "stroke": "black", "strokeWidth": 1.5},
       "encoding": {
         "y": {"field": "gene", "type": "nominal", "sort": null, "scale": {"paddingInner": 0.16, "paddingOuter": 0.06}, "axis": {"title": null, "ticks": false, "tickSize": 0, "labelPadding": 6, "labelFontSize": 12.5, "labelColor": "#FF0000", "grid": true, "bandPosition": 0.5}},
         "x": {"field": "fc", "type": "quantitative", "scale": {"type": "log", "domain": [0.128, 630], "nice": false}, "axis": {"values": [0.25, 1, 4, 16, 64, 256], "format": "~g", "title": "Fold-Change (PP/PN)"}},
         "x2": {"datum": 1},
         "fill": {"field": "dir", "type": "nominal", "scale": {"domain": ["up", "down", "ns"], "range": ["#FF0000", "#0000FF", "#000000"]}, "legend": null}}},
      {"mark": {"type": "rule", "color": "black", "strokeWidth": 2}, "encoding": {"x": {"datum": 1}}},
      {"mark": {"type": "text", "align": "right", "dx": -6, "fontSize": 12.5, "color": "black"},
       "encoding": {"y": {"field": "gene", "type": "nominal", "sort": null}, "x": {"datum": 1}, "text": {"field": "lab"}}}
    ]
  },
  {
    "width": 171, "height": 203, "view": {"stroke": "black", "strokeWidth": 2}, "data": {"name": "e_scc"},
    "layer": [
      {"mark": {"type": "bar", "stroke": "black", "strokeWidth": 1.5},
       "encoding": {
         "y": {"field": "gene", "type": "nominal", "sort": null, "scale": {"paddingInner": 0.16, "paddingOuter": 0.06}, "axis": {"title": null, "labels": false, "ticks": false, "tickSize": 0, "grid": true, "bandPosition": 0.5}},
         "x": {"field": "fc", "type": "quantitative", "scale": {"type": "log", "domain": [0.13, 635], "nice": false}, "axis": {"values": [0.25, 1, 4, 16, 64, 256], "format": "~g", "title": "Fold-Change (SCC/N)"}},
         "x2": {"datum": 1},
         "fill": {"field": "dir", "type": "nominal", "scale": {"domain": ["up", "down", "ns"], "range": ["#FF0000", "#0000FF", "#000000"]}, "legend": null}}},
      {"mark": {"type": "rule", "color": "black", "strokeWidth": 2}, "encoding": {"x": {"datum": 1}}},
      {"mark": {"type": "text", "align": "right", "dx": -6, "fontSize": 12.5, "color": "black"},
       "encoding": {"y": {"field": "gene", "type": "nominal", "sort": null}, "x": {"datum": 1}, "text": {"field": "lab"}}}
    ]
  },
  {"width": 59, "height": 203, "data": {"values": [{}]}, "mark": {"type": "point", "opacity": 0}, "title": {"text": "f", "dx": 7, "offset": 16, "frame": "group", "baseline": "top"}},
  {
    "width": 174, "height": 203, "view": {"stroke": "black", "strokeWidth": 2}, "data": {"name": "f_pp"},
    "layer": [
      {"mark": {"type": "bar", "stroke": "black", "strokeWidth": 1.5},
       "encoding": {
         "y": {"field": "gene", "type": "nominal", "sort": null, "scale": {"paddingInner": 0.16, "paddingOuter": 0.06}, "axis": {"title": null, "ticks": false, "tickSize": 0, "labelPadding": 7, "labelFontSize": 12.5, "labelColor": "#0000FF", "grid": true, "bandPosition": 0.5}},
         "x": {"field": "fc", "type": "quantitative", "scale": {"type": "log", "domain": [0.00246, 7.6], "nice": false}, "axis": {"values": [0.00390625, 0.015625, 0.0625, 0.25, 1, 4], "labelExpr": "datum.value < 0.01 ? '0' : datum.value < 0.03 ? '0.02' : datum.value < 0.1 ? '' : format(datum.value, '~g')", "title": "Fold-Change (PP/PN)"}},
         "x2": {"datum": 1},
         "fill": {"field": "dir", "type": "nominal", "scale": {"domain": ["up", "down", "ns"], "range": ["#FF0000", "#0000FF", "#000000"]}, "legend": null}}},
      {"mark": {"type": "rule", "color": "black", "strokeWidth": 2}, "encoding": {"x": {"datum": 1}}},
      {"mark": {"type": "text", "align": "left", "dx": 6, "fontSize": 12.5, "color": "black"},
       "encoding": {"y": {"field": "gene", "type": "nominal", "sort": null}, "x": {"datum": 1}, "text": {"field": "lab"}}}
    ]
  },
  {
    "width": 172, "height": 203, "view": {"stroke": "black", "strokeWidth": 2}, "data": {"name": "f_scc"},
    "layer": [
      {"mark": {"type": "bar", "stroke": "black", "strokeWidth": 1.5},
       "encoding": {
         "y": {"field": "gene", "type": "nominal", "sort": null, "scale": {"paddingInner": 0.16, "paddingOuter": 0.06}, "axis": {"title": null, "labels": false, "ticks": false, "tickSize": 0, "grid": true, "bandPosition": 0.5}},
         "x": {"field": "fc", "type": "quantitative", "scale": {"type": "log", "domain": [0.0025, 7.8], "nice": false}, "axis": {"values": [0.00390625, 0.015625, 0.0625, 0.25, 1, 4], "labelExpr": "datum.value < 0.01 ? '0' : datum.value < 0.03 ? '0.02' : datum.value < 0.1 ? '' : format(datum.value, '~g')", "title": "Fold-Change (SCC/N)"}},
         "x2": {"datum": 1},
         "fill": {"field": "dir", "type": "nominal", "scale": {"domain": ["up", "down", "ns"], "range": ["#FF0000", "#0000FF", "#000000"]}, "legend": null}}},
      {"mark": {"type": "rule", "color": "black", "strokeWidth": 2}, "encoding": {"x": {"datum": 1}}},
      {"mark": {"type": "text", "align": "left", "dx": 3, "fontSize": 12.5, "color": "black"},
       "encoding": {"y": {"field": "gene", "type": "nominal", "sort": null}, "x": {"datum": 1}, "text": {"field": "lab"}}}
    ]
  }
 ], "bounds": "flush", "spacing": 8},

 {"hconcat": [
  {"width": 57, "height": 205, "data": {"values": [{}]}, "mark": {"type": "point", "opacity": 0}, "title": {"text": "g", "dx": 5, "offset": 12, "frame": "group", "baseline": "top"}},
  {
    "width": 175, "height": 205, "view": {"stroke": "black", "strokeWidth": 2}, "data": {"name": "g_pp"},
    "layer": [
      {"mark": {"type": "bar", "stroke": "black", "strokeWidth": 1.5},
       "encoding": {
         "y": {"field": "gene", "type": "nominal", "sort": null, "scale": {"paddingInner": 0.17, "paddingOuter": 0.06}, "axis": {"title": null, "ticks": false, "tickSize": 0, "labelPadding": 6, "labelFontSize": 12.5, "labelColor": {"condition": {"test": "indexof(['PLA2G2A','HRH3','CDRT1','EIF4E'], datum.value) >= 0", "value": "#FF00FF"}, "value": "black"}, "grid": true, "bandPosition": 0.5}},
         "x": {"field": "fc", "type": "quantitative", "scale": {"type": "log", "domain": [0.061, 84], "nice": false}, "axis": {"values": [0.25, 1, 4, 16, 64], "format": "~g", "title": "Fold-Change (PP/PN)"}},
         "x2": {"datum": 1},
         "fill": {"field": "dir", "type": "nominal", "scale": {"domain": ["up", "down", "ns"], "range": ["#FF0000", "#0000FF", "#000000"]}, "legend": null}}},
      {"mark": {"type": "rule", "color": "black", "strokeWidth": 2}, "encoding": {"x": {"datum": 1}}},
      {"mark": {"type": "text", "align": "right", "dx": -16, "fontSize": 12.5, "color": "black"},
       "encoding": {"y": {"field": "gene", "type": "nominal", "sort": null}, "x": {"datum": 1}, "text": {"field": "lab"}}}
    ]
  },
  {
    "width": 169, "height": 205, "view": {"stroke": "black", "strokeWidth": 2}, "data": {"name": "g_scc"},
    "layer": [
      {"mark": {"type": "bar", "stroke": "black", "strokeWidth": 1.5},
       "encoding": {
         "y": {"field": "gene", "type": "nominal", "sort": null, "scale": {"paddingInner": 0.17, "paddingOuter": 0.06}, "axis": {"title": null, "labels": false, "ticks": false, "tickSize": 0, "grid": true, "bandPosition": 0.5}},
         "x": {"field": "fc", "type": "quantitative", "scale": {"type": "log", "domain": [0.068, 67.6], "nice": false}, "axis": {"values": [0.25, 1, 4, 16, 64], "format": "~g", "title": "Fold-Change (SCC/N)"}},
         "x2": {"datum": 1},
         "fill": {"field": "dir", "type": "nominal", "scale": {"domain": ["up", "down", "ns"], "range": ["#FF0000", "#0000FF", "#000000"]}, "legend": null}}},
      {"mark": {"type": "rule", "color": "black", "strokeWidth": 2}, "encoding": {"x": {"datum": 1}}},
      {"mark": {"type": "text", "align": "left", "dx": 7, "fontSize": 12.5, "color": "black"},
       "encoding": {"y": {"field": "gene", "type": "nominal", "sort": null}, "x": {"datum": 1}, "text": {"field": "lab"}}}
    ]
  },
  {"width": 65, "height": 205, "data": {"values": [{}]}, "mark": {"type": "point", "opacity": 0}, "title": {"text": "h", "dx": 10, "offset": 15, "frame": "group", "baseline": "top"}},
  {
    "width": 168, "height": 205, "view": {"stroke": "black", "strokeWidth": 2}, "data": {"name": "h_pp"},
    "layer": [
      {"mark": {"type": "bar", "stroke": "black", "strokeWidth": 1.5},
       "encoding": {
         "y": {"field": "gene", "type": "nominal", "sort": null, "scale": {"paddingInner": 0.17, "paddingOuter": 0.06}, "axis": {"title": null, "ticks": false, "tickSize": 0, "labelPadding": 6, "labelFontSize": 12.5, "labelColor": {"condition": {"test": "indexof(['KRT13','FST','ASB2','CASKIN1','DRD4','HPN','B4GALNT4'], datum.value) >= 0", "value": "#FF00FF"}, "value": "black"}, "grid": true, "bandPosition": 0.5}},
         "x": {"field": "fc", "type": "quantitative", "scale": {"type": "log", "domain": [0.052, 11.9], "nice": false}, "axis": {"values": [0.0625, 0.25, 1, 4], "labelExpr": "datum.value < 0.1 ? '0.06' : format(datum.value, '~g')", "title": "Fold-Change (PP/PN)"}},
         "x2": {"datum": 1},
         "fill": {"field": "dir", "type": "nominal", "scale": {"domain": ["up", "down", "ns"], "range": ["#FF0000", "#0000FF", "#000000"]}, "legend": null}}},
      {"mark": {"type": "rule", "color": "black", "strokeWidth": 2}, "encoding": {"x": {"datum": 1}}},
      {"mark": {"type": "text", "align": "left", "dx": 7, "fontSize": 12.5, "color": "black"},
       "encoding": {"y": {"field": "gene", "type": "nominal", "sort": null}, "x": {"datum": 1}, "text": {"field": "lab"}}}
    ]
  },
  {
    "width": 172, "height": 205, "view": {"stroke": "black", "strokeWidth": 2}, "data": {"name": "h_scc"},
    "layer": [
      {"mark": {"type": "bar", "stroke": "black", "strokeWidth": 1.5},
       "encoding": {
         "y": {"field": "gene", "type": "nominal", "sort": null, "scale": {"paddingInner": 0.17, "paddingOuter": 0.06}, "axis": {"title": null, "labels": false, "ticks": false, "tickSize": 0, "grid": true, "bandPosition": 0.5}},
         "x": {"field": "fc", "type": "quantitative", "scale": {"type": "log", "domain": [0.0515, 12.5], "nice": false}, "axis": {"values": [0.0625, 0.25, 1, 4], "labelExpr": "datum.value < 0.1 ? '0.06' : format(datum.value, '~g')", "title": "Fold-Change (SCC/N)"}},
         "x2": {"datum": 1},
         "fill": {"field": "dir", "type": "nominal", "scale": {"domain": ["up", "down", "ns"], "range": ["#FF0000", "#0000FF", "#000000"]}, "legend": null}}},
      {"mark": {"type": "rule", "color": "black", "strokeWidth": 2}, "encoding": {"x": {"datum": 1}}},
      {"mark": {"type": "text", "align": "right", "dx": -6, "fontSize": 12.5, "color": "black"},
       "encoding": {"y": {"field": "gene", "type": "nominal", "sort": null}, "x": {"datum": 1}, "text": {"field": "lab"}}}
    ]
  }
 ], "bounds": "flush", "spacing": 8}
]
}
